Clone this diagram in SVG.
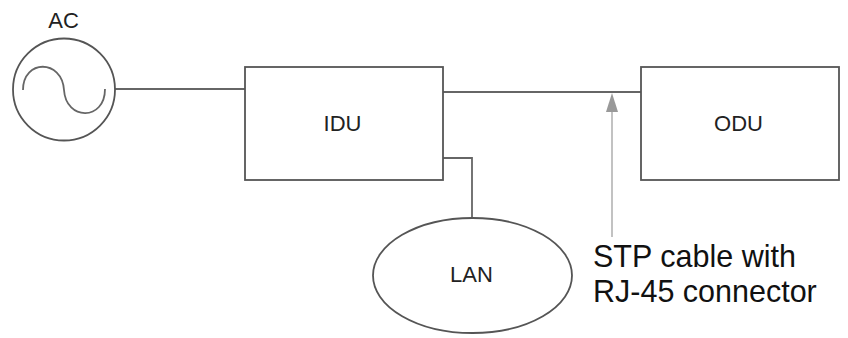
<svg xmlns="http://www.w3.org/2000/svg" width="848" height="338" viewBox="0 0 848 338">
<style>
.shape{fill:#fff;stroke:#555;stroke-width:1.8}
.wire{fill:none;stroke:#666;stroke-width:1.8}
.lbl{font-family:"Liberation Sans",Arial,sans-serif;fill:#222;font-size:22px}
.big{font-family:"Liberation Sans",Arial,sans-serif;fill:#111;font-size:30.5px}
</style>
<rect width="848" height="338" fill="#fff"/>
<g id="connectors">
<line class="wire" x1="115" y1="89" x2="245" y2="89"/>
<line class="wire" x1="443" y1="92" x2="641" y2="92"/>
<polyline class="wire" points="443,158 472,158 472,218"/>
<line x1="612" y1="237" x2="612" y2="96" stroke="#999" stroke-width="1.2"/>
<path d="M606,112 L612,93 L618,112 Z" fill="#999"/>
</g>
<g id="ac">
<circle class="shape" cx="64" cy="89.5" r="51"/>
<path class="wire" d="M23,90 C23,59 62,59 64,90 C66,121 105,121 105,89"/>
<text class="lbl" x="63.5" y="28" text-anchor="middle">AC</text>
</g>
<g id="idu">
<rect class="shape" x="245" y="67" width="198" height="113"/>
<text class="lbl" x="342.5" y="131" text-anchor="middle">IDU</text>
</g>
<g id="odu">
<rect class="shape" x="641" y="67" width="198" height="113"/>
<text class="lbl" x="738.5" y="131" text-anchor="middle">ODU</text>
</g>
<g id="lan">
<ellipse class="shape" cx="472.5" cy="275.5" rx="99.5" ry="57.5"/>
<text class="lbl" x="471.5" y="282" text-anchor="middle">LAN</text>
</g>
<g id="stp-label">
<text class="big" x="593" y="267">STP cable with</text>
<text class="big" x="593" y="302">RJ-45 connector</text>
</g>
</svg>
